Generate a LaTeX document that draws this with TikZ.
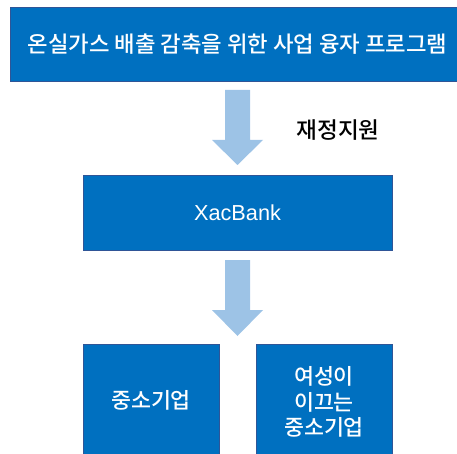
\documentclass[tikz,border=0pt]{standalone}
\usepackage{fontspec}
\setmainfont{Noto Sans CJK KR}[BoldFont={Noto Sans CJK KR Medium}]
\newfontfamily\latinsans{Liberation Sans}
\definecolor{boxblue}{HTML}{0070C0}
\definecolor{boxedge}{HTML}{2F5597}
\definecolor{arrowblue}{HTML}{9DC3E6}
\begin{document}
\begin{tikzpicture}[x=1pt,y=-1pt,
  bluebox/.style={draw=boxedge, line width=0.8pt, fill=boxblue, text=white, align=center},
  blockarrow/.style={fill=arrowblue, draw=none}]
\useasboundingbox (0,0) rectangle (457,454);
% top box
\draw[bluebox] (10,7) rectangle (458,81);
\node[text=white, font=\bfseries\fontsize{22.3}{26}\selectfont] (title) at (237.5,44) {온실가스 배출 감축을 위한 사업 융자 프로그램};
% arrow 1
\fill[blockarrow] (225,90) -- (250,90) -- (250,140) -- (263,140) -- (237.5,165) -- (212,140) -- (225,140) -- cycle;
\node[font=\bfseries\fontsize{22.6}{26}\selectfont] (fin) at (338,130) {재정지원};
% XacBank
\draw[bluebox] (83,175) rectangle (392,250);
\node[text=white, font=\latinsans\fontsize{21.7}{25}\selectfont] (xac) at (237.5,213) {XacBank};
% arrow 2
\fill[blockarrow] (225,260) -- (250,260) -- (250,310) -- (263,310) -- (237.5,336) -- (212,310) -- (225,310) -- cycle;
% bottom boxes
\draw[bluebox] (83,344) rectangle (219,456);
\draw[bluebox] (256,344) rectangle (392,456);
\node[text=white, font=\bfseries\fontsize{21.7}{25}\selectfont] (sme) at (151,400) {중소기업};
\node[text=white, align=center, font=\bfseries\fontsize{21.7}{25.5}\selectfont] (wsme) at (324,402) {여성이\\이끄는\\중소기업};
\end{tikzpicture}
\end{document}
